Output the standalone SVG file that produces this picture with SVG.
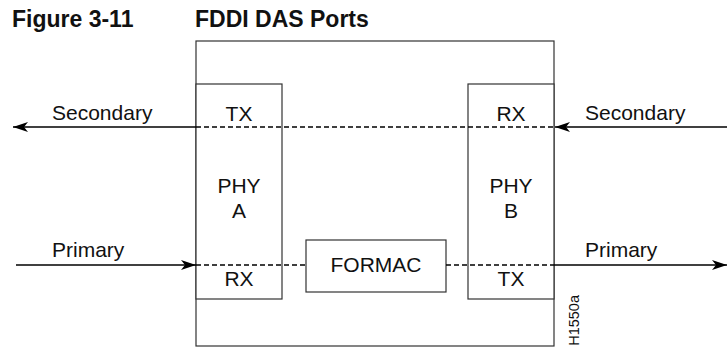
<svg xmlns="http://www.w3.org/2000/svg" width="727" height="348" viewBox="0 0 727 348">
<style>
.box{fill:#fff;stroke:#333;stroke-width:1.2}
.lbl{font-family:"Liberation Sans",Arial,sans-serif;font-size:21px;fill:#111}
.mid{text-anchor:middle}
.title{font-family:"Liberation Sans",Arial,sans-serif;font-size:23px;font-weight:bold;fill:#111}
.solid{stroke:#000;stroke-width:1.3;fill:none}
.dash{stroke:#000;stroke-width:1.3;fill:none;stroke-dasharray:5 3}
.code{font-family:"Liberation Sans",Arial,sans-serif;font-size:14.5px;fill:#111}
</style>
<defs>
<marker id="arr" markerUnits="userSpaceOnUse" markerWidth="16" markerHeight="12" refX="15" refY="6" orient="auto">
<path d="M0,1 L15,6 L0,11 L4,6 Z" fill="#000"/>
</marker>
</defs>
<rect width="727" height="348" fill="#fff"/>
<g id="title">
<text class="title" x="12" y="27">Figure 3-11</text>
<text class="title" x="195" y="27">FDDI DAS Ports</text>
</g>
<g id="chassis">
<rect class="box" x="196" y="41" width="358" height="305"/>
</g>
<g id="phy-a">
<rect class="box" x="196" y="84" width="86" height="215"/>
<text class="lbl mid" x="239" y="121">TX</text>
<text class="lbl mid" x="239" y="193">PHY</text>
<text class="lbl mid" x="239" y="218">A</text>
<text class="lbl mid" x="239" y="286">RX</text>
</g>
<g id="phy-b">
<rect class="box" x="468" y="84" width="86" height="215"/>
<text class="lbl mid" x="511" y="121">RX</text>
<text class="lbl mid" x="511" y="193">PHY</text>
<text class="lbl mid" x="511" y="218">B</text>
<text class="lbl mid" x="511" y="286">TX</text>
</g>
<g id="formac">
<rect class="box" x="306" y="240" width="140" height="52"/>
<text class="lbl mid" x="376" y="272">FORMAC</text>
</g>
<g id="connectors">
<line class="solid" x1="196" y1="127" x2="13" y2="127" marker-end="url(#arr)"/>
<line class="dash" x1="196" y1="127" x2="554" y2="127"/>
<line class="solid" x1="727" y1="127" x2="555" y2="127" marker-end="url(#arr)"/>
<line class="solid" x1="16" y1="265" x2="196" y2="265" marker-end="url(#arr)"/>
<line class="dash" x1="196" y1="265" x2="306" y2="265"/>
<line class="dash" x1="446" y1="265" x2="554" y2="265"/>
<line class="solid" x1="554" y1="265" x2="727" y2="265" marker-end="url(#arr)"/>
<text class="lbl" x="52" y="120">Secondary</text>
<text class="lbl" x="585" y="120">Secondary</text>
<text class="lbl" x="52" y="257">Primary</text>
<text class="lbl" x="585" y="257">Primary</text>
</g>
<g id="code">
<text class="code" transform="translate(578.5,295) rotate(-90)" text-anchor="end">H1550a</text>
</g>
</svg>
